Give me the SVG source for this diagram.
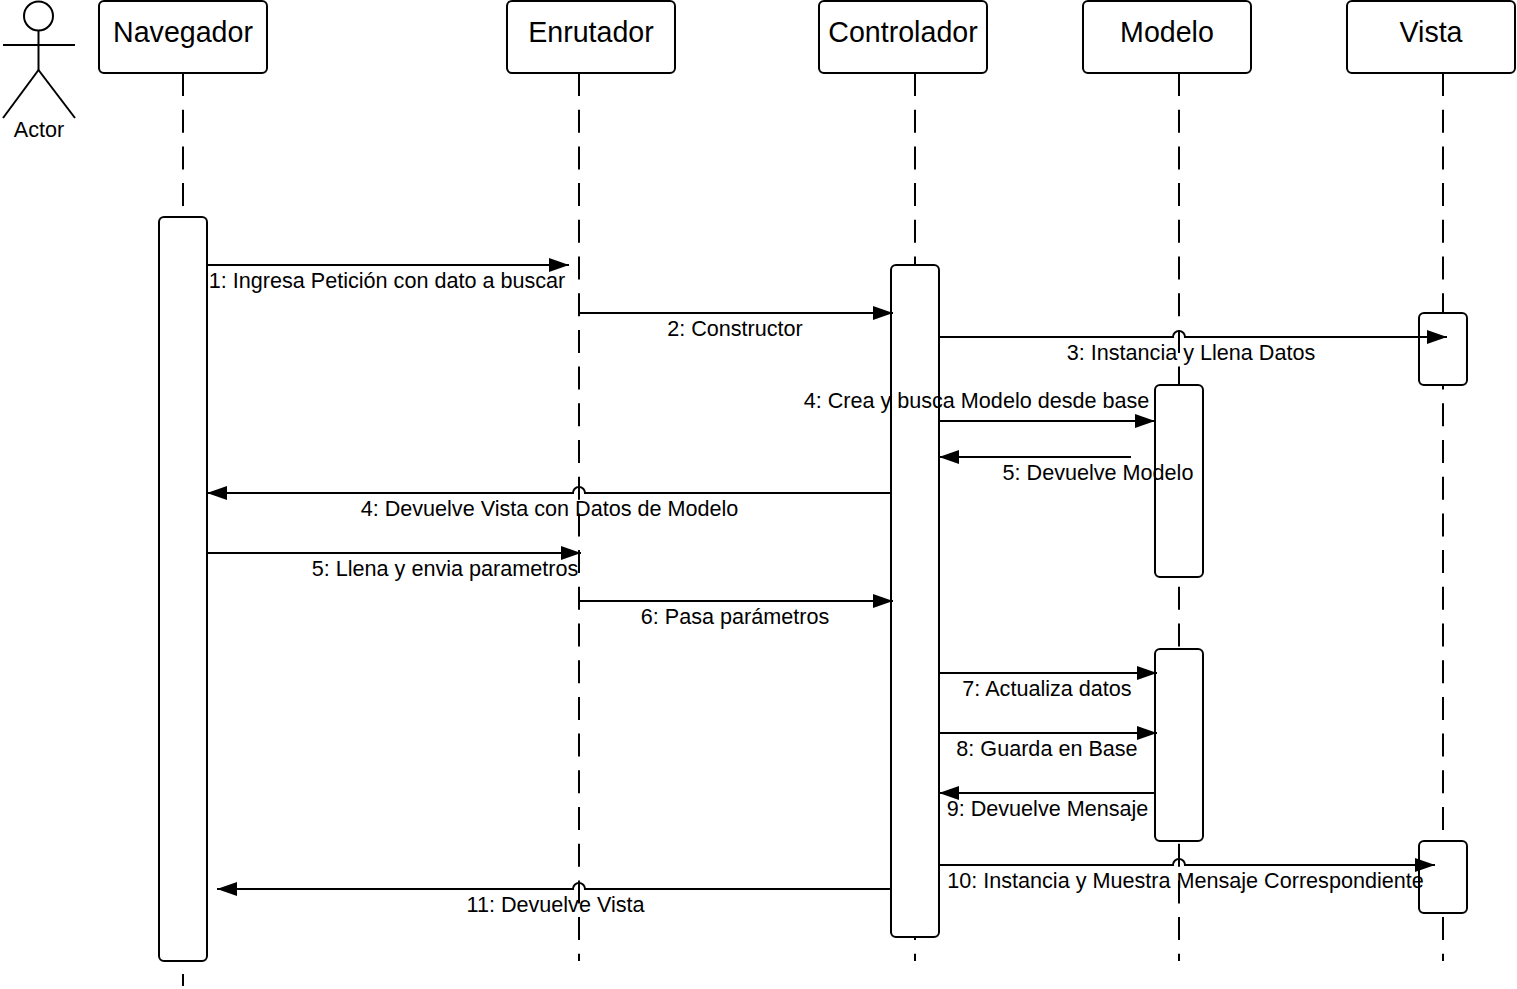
<svg xmlns="http://www.w3.org/2000/svg" width="1517" height="989" viewBox="0 0 1517 989">
<style>
.hdr{fill:#fff;stroke:#000;stroke-width:2}
.act{fill:#fff;stroke:#000;stroke-width:2}
.life{stroke:#000;stroke-width:2;stroke-dasharray:23 13.7;fill:none}
.msg{stroke:#000;stroke-width:2;fill:none;marker-end:url(#ah)}
.t{font-family:"Liberation Sans",Arial,sans-serif;fill:#000}
.title{font-size:28.6px;text-anchor:middle}
.lbl{font-size:21.6px;text-anchor:middle}
</style>
<defs>
<marker id="ah" viewBox="0 0 20 14" refX="20" refY="7" markerUnits="userSpaceOnUse" markerWidth="20" markerHeight="14" orient="auto">
<path d="M0,0 L20,7 L0,14 z" fill="#000"/>
</marker>
</defs>
<rect width="1517" height="989" fill="#fff"/>
<g id="lifelines">
<line class="life" x1="183" y1="73" x2="183" y2="961"/>
<line class="life" x1="579" y1="73" x2="579" y2="961"/>
<line class="life" x1="915" y1="73" x2="915" y2="961"/>
<line class="life" x1="1179" y1="73" x2="1179" y2="961"/>
<line class="life" x1="1443" y1="73" x2="1443" y2="961"/>
<line x1="183" y1="974" x2="183" y2="986" stroke="#000" stroke-width="2"/>
</g>
<g id="actor" fill="none" stroke="#000" stroke-width="2">
<circle cx="38.5" cy="16" r="14.5"/>
<line x1="38.5" y1="30.5" x2="38.5" y2="70"/>
<line x1="3" y1="45" x2="75" y2="45"/>
<line x1="38.5" y1="70" x2="3" y2="118"/>
<line x1="38.5" y1="70" x2="75" y2="118"/>
<text class="t" x="39" y="136.5" font-size="21.6" text-anchor="middle" stroke="none" fill="#000">Actor</text>
</g>
<g id="navegador">
<rect class="hdr" x="99" y="1" width="168" height="72" rx="5"/>
<text class="t title" x="183" y="42">Navegador</text>
</g>
<g id="enrutador">
<rect class="hdr" x="507" y="1" width="168" height="72" rx="5"/>
<text class="t title" x="591" y="42">Enrutador</text>
</g>
<g id="controlador">
<rect class="hdr" x="819" y="1" width="168" height="72" rx="5"/>
<text class="t title" x="903" y="42">Controlador</text>
</g>
<g id="modelo">
<rect class="hdr" x="1083" y="1" width="168" height="72" rx="5"/>
<text class="t title" x="1167" y="42">Modelo</text>
</g>
<g id="vista">
<rect class="hdr" x="1347" y="1" width="168" height="72" rx="5"/>
<text class="t title" x="1431" y="42">Vista</text>
</g>
<g id="activations">
<rect id="act-navegador" class="act" x="159" y="217" width="48" height="744" rx="5"/>
<rect id="act-controlador" class="act" x="891" y="265" width="48" height="672" rx="5"/>
<rect id="act-vista-1" class="act" x="1419" y="313" width="48" height="72" rx="5"/>
<rect id="act-modelo-1" class="act" x="1155" y="385" width="48" height="192" rx="5"/>
<rect id="act-modelo-2" class="act" x="1155" y="649" width="48" height="192" rx="5"/>
<rect id="act-vista-2" class="act" x="1419" y="841" width="48" height="72" rx="5"/>
</g>
<g id="connectors">
<path class="msg" d="M207,265 H569"/>
<path class="msg" d="M579,313 H893"/>
<path class="msg" d="M939,337 H1173 A6,6 0 0 1 1185,337 H1447"/>
<path class="msg" d="M939,421 H1155"/>
<path class="msg" d="M1131,457 H939"/>
<path class="msg" d="M891,493 H585 A6,6 0 0 0 573,493 H207"/>
<path class="msg" d="M207,553 H581"/>
<path class="msg" d="M579,601 H893"/>
<path class="msg" d="M939,673 H1157"/>
<path class="msg" d="M939,733 H1157"/>
<path class="msg" d="M1155,793 H939"/>
<path class="msg" d="M939,865 H1173 A6,6 0 0 1 1185,865 H1435"/>
<path class="msg" d="M891,889 H585 A6,6 0 0 0 573,889 H217"/>
</g>
<g id="labels">
<text class="t lbl" x="387" y="288">1: Ingresa Petición con dato a buscar</text>
<text class="t lbl" x="735" y="336">2: Constructor</text>
<text class="t lbl" x="1191" y="360">3: Instancia y Llena Datos</text>
<text class="t lbl" x="976.5" y="408">4: Crea y busca Modelo desde base</text>
<text class="t lbl" x="1098" y="480">5: Devuelve Modelo</text>
<text class="t lbl" x="549.5" y="516">4: Devuelve Vista con Datos de Modelo</text>
<text class="t lbl" x="445" y="576">5: Llena y envia parametros</text>
<text class="t lbl" x="735" y="624">6: Pasa parámetros</text>
<text class="t lbl" x="1047" y="696">7: Actualiza datos</text>
<text class="t lbl" x="1047" y="756">8: Guarda en Base</text>
<text class="t lbl" x="1047.5" y="816">9: Devuelve Mensaje</text>
<text class="t lbl" x="1185.5" y="888">10: Instancia y Muestra Mensaje Correspondiente</text>
<text class="t lbl" x="555.5" y="912">11: Devuelve Vista</text>
</g>
</svg>
